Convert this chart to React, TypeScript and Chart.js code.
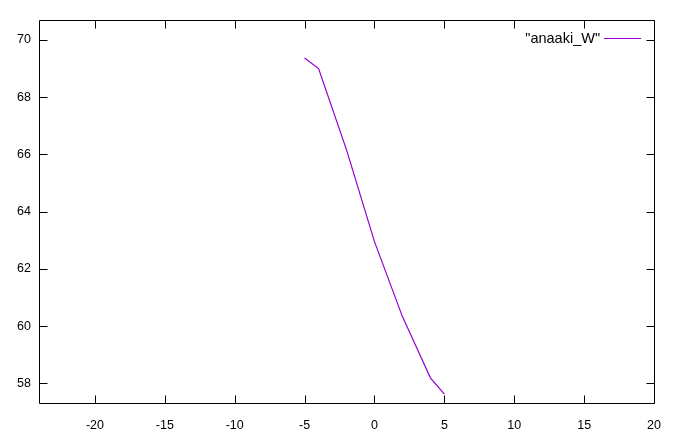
import React, { useEffect, useRef } from "react";
import { Chart, registerables } from "chart.js";

Chart.register(...registerables);

const seriesLabel = '"anaaki_W"';
const xValues = [-5, -4, -2, 0, 2, 4, 5];
const yValues = [69.37, 69.0, 66.16, 62.95, 60.33, 58.19, 57.62];
const xTicks = [-20, -15, -10, -5, 0, 5, 10, 15, 20];
const yTicks = [58, 60, 62, 64, 66, 68, 70];

const FONT = "Liberation Sans";
const LINE_COLOR = "#9400d3";

const framePlugin = {
  id: "gnuplotFrame",
  afterDatasetsDraw(chart: any) {
    const { ctx, chartArea } = chart;
    const { left, right, top, bottom } = chartArea;
    const xs = chart.scales.x;
    const ys = chart.scales.y;
    const tl = 8;
    ctx.save();
    ctx.strokeStyle = "#000";
    ctx.lineWidth = 1;
    ctx.beginPath();
    const L = Math.round(left) + 0.5;
    const R = Math.round(right) + 0.5;
    const T = Math.round(top) + 0.5;
    const B = Math.round(bottom) + 0.5;
    ctx.rect(L, T, R - L, B - T);
    for (const v of xTicks) {
      const px = Math.round(xs.getPixelForValue(v)) + 0.5;
      ctx.moveTo(px, B);
      ctx.lineTo(px, B - tl);
      ctx.moveTo(px, T);
      ctx.lineTo(px, T + tl);
    }
    for (const v of yTicks) {
      const py = Math.round(ys.getPixelForValue(v)) + 0.5;
      ctx.moveTo(L, py);
      ctx.lineTo(L + tl, py);
      ctx.moveTo(R, py);
      ctx.lineTo(R - tl, py);
    }
    ctx.stroke();

    // legend (inside, top right)
    const ly = 38.5;
    const lineEnd = right - 13;
    const lineStart = lineEnd - 37;
    ctx.font = `14.5px "${FONT}"`;
    ctx.fillStyle = "#000";
    ctx.textAlign = "right";
    ctx.textBaseline = "middle";
    ctx.fillText(chart.data.datasets[0].label, lineStart - 4, ly);
    ctx.strokeStyle = LINE_COLOR;
    ctx.beginPath();
    ctx.moveTo(lineStart, ly);
    ctx.lineTo(lineEnd, ly);
    ctx.stroke();
    ctx.restore();
  },
};

export default function App() {
  const ref = useRef<HTMLCanvasElement>(null);
  useEffect(() => {
    if (!ref.current) return;
    const chart = new Chart(ref.current, {
      type: "scatter",
      data: {
        datasets: [
          {
            label: seriesLabel,
            data: xValues.map((x, i) => ({ x, y: yValues[i] })),
            showLine: true,
            borderColor: LINE_COLOR,
            backgroundColor: LINE_COLOR,
            borderWidth: 1.2,
            pointRadius: 0,
            tension: 0,
          },
        ],
      },
      options: {
        animation: false,
        responsive: false,
        maintainAspectRatio: false,
        layout: { padding: { left: 0, right: 21, top: 20, bottom: 0 } },
        plugins: { legend: { display: false }, tooltip: { enabled: false } },
        scales: {
          x: {
            type: "linear",
            min: -24,
            max: 20,
            grid: { display: false, drawTicks: false },
            border: { display: false },
            afterBuildTicks: (s: any) => {
              s.ticks = xTicks.map((v) => ({ value: v }));
            },
            afterFit: (s: any) => {
              s.height = 38;
            },
            ticks: {
              padding: 15,
              color: "#000",
              font: { family: FONT, size: 12.5 },
              maxRotation: 0,
              autoSkip: false,
            },
          },
          y: {
            type: "linear",
            min: 57.31,
            max: 70.7,
            grid: { display: false, drawTicks: false },
            border: { display: false },
            afterBuildTicks: (s: any) => {
              s.ticks = yTicks.map((v) => ({ value: v }));
            },
            afterFit: (s: any) => {
              s.width = 39;
            },
            ticks: {
              padding: 8,
              color: "#000",
              font: { family: FONT, size: 12.5 },
              autoSkip: false,
            },
          },
        },
      },
      plugins: [framePlugin],
    });
    return () => chart.destroy();
  }, []);

  return (
    <div style={{ position: "relative", width: 676, height: 445, background: "#f0f0f0", margin: -8 }}>
      <canvas ref={ref} width={676} height={441} style={{ position: "absolute", left: 0, top: 0, background: "#fff", width: 676, height: 441 }} />
      <div style={{ position: "absolute", left: 0, top: 0, width: 2, height: 441, background: "#6e6e6e" }} />
    </div>
  );
}
